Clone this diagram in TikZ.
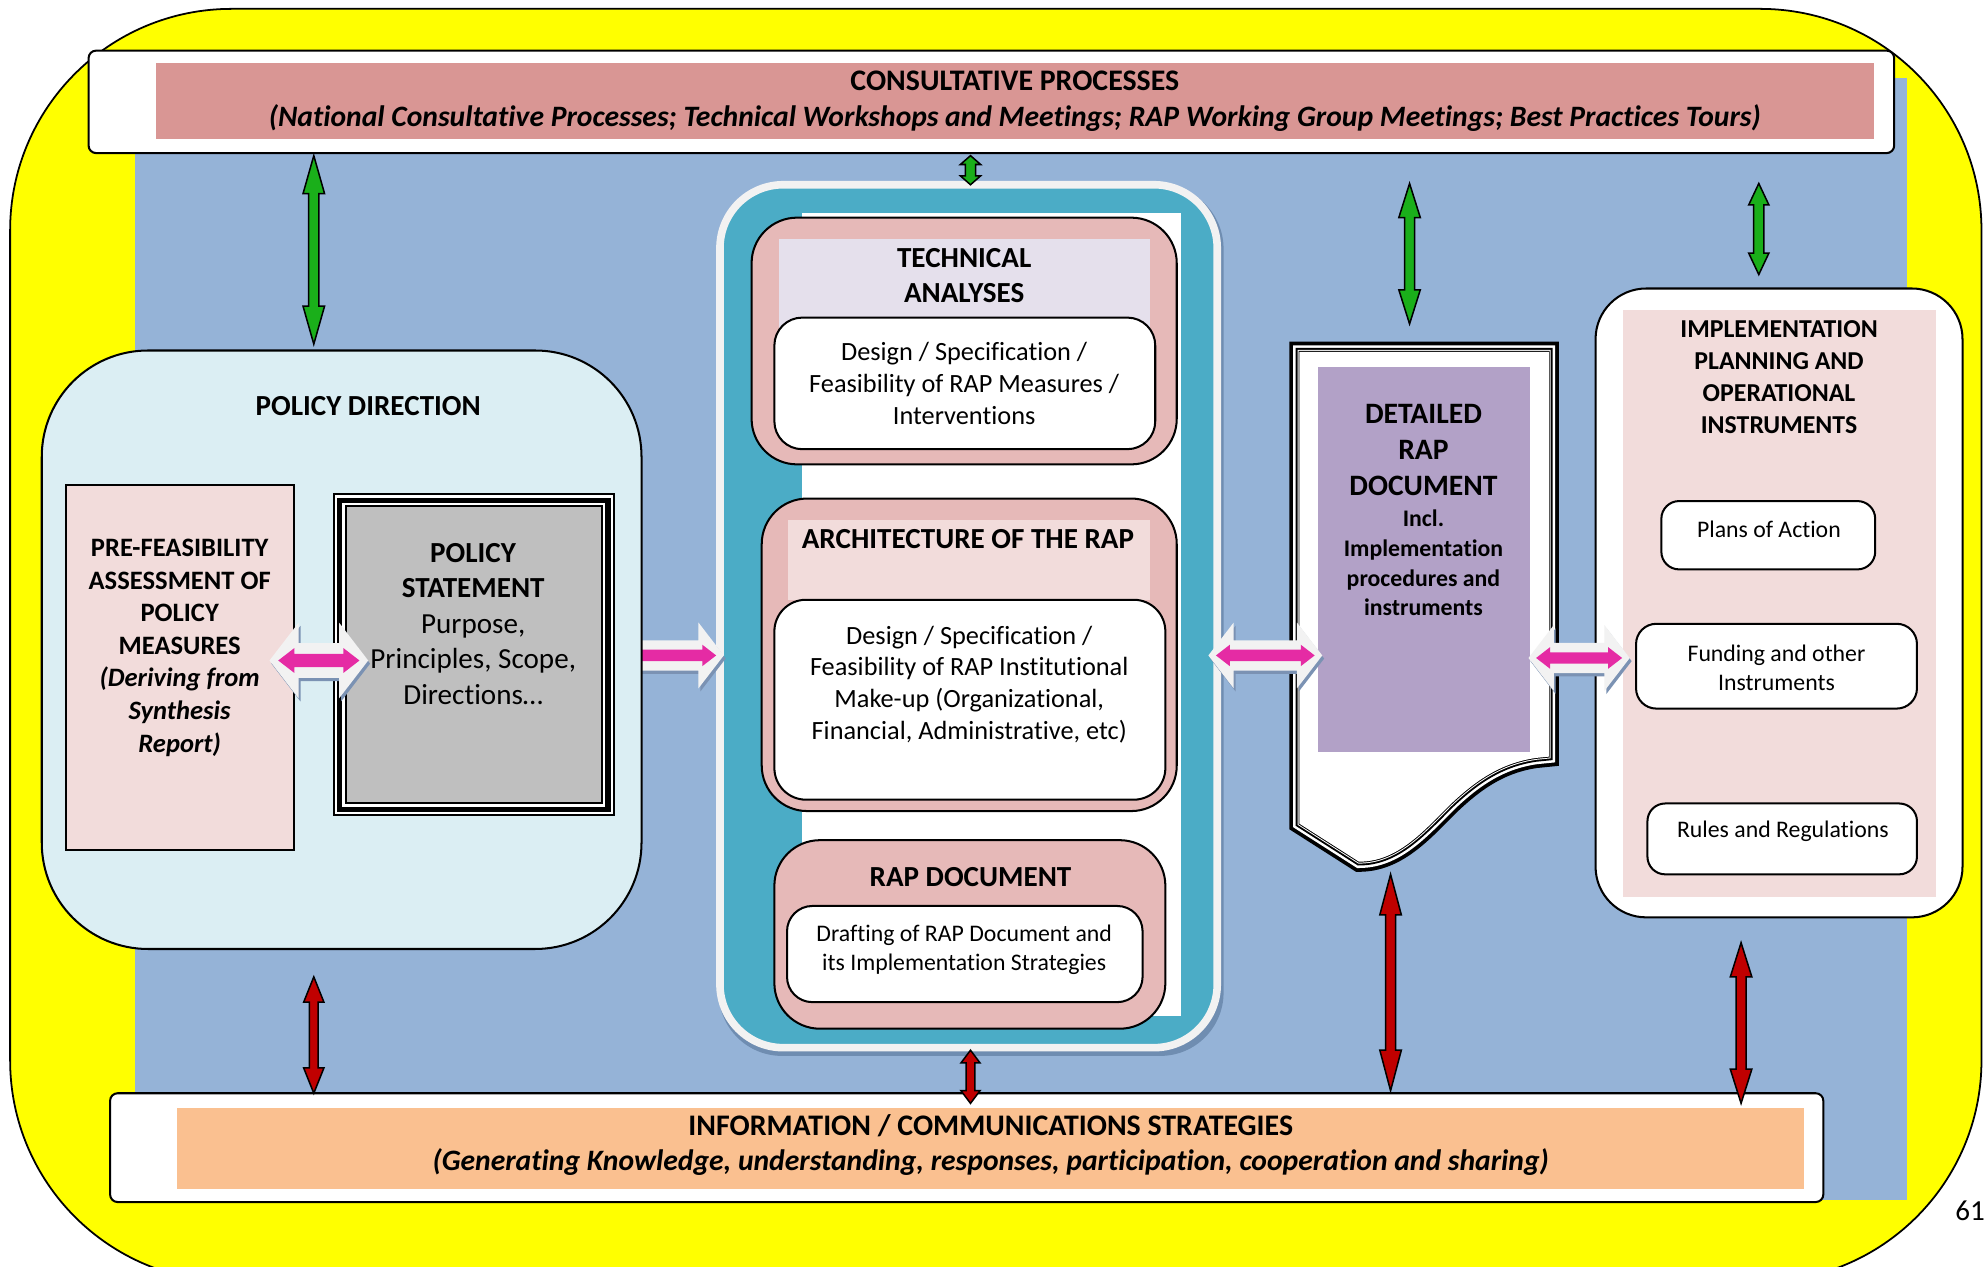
\documentclass[tikz,border=0pt]{standalone}
\usepackage{fontspec}
\setmainfont{Carlito}[Ligatures=NoCommon]
\usetikzlibrary{calc}

\definecolor{frameyellow}{HTML}{FFFF00}
\definecolor{bgblue}{HTML}{95B3D7}
\definecolor{consultpink}{HTML}{D99694}
\definecolor{infopeach}{HTML}{FAC090}
\definecolor{pdblue}{HTML}{DBEEF3}
\definecolor{palepink}{HTML}{F2DCDB}
\definecolor{stmtgray}{HTML}{BFBFBF}
\definecolor{panelteal}{HTML}{4BACC6}
\definecolor{panelrim}{HTML}{F2F2F2}
\definecolor{panelshade}{HTML}{6F8DB1}
\definecolor{boxpink}{HTML}{E6B9B8}
\definecolor{headlav}{HTML}{E5E0EC}
\definecolor{docpurple}{HTML}{B2A1C7}
\definecolor{agreen}{HTML}{1AAF1A}
\definecolor{ared}{HTML}{C00000}
\definecolor{amagenta}{HTML}{E52BA4}
\definecolor{arrowwhite}{HTML}{F2F2F2}
\definecolor{arrowshade}{HTML}{7B92B3}

\tikzset{
  plain/.style={rectangle, inner sep=0pt, outer sep=0pt},
  edged/.style={plain, draw=black, line width=0.8pt},
  txttitle/.style={inner sep=0pt, align=center, font=\bfseries\fontsize{11.5}{14}\selectfont},
  txtband/.style={inner sep=0pt, align=center, font=\bfseries\fontsize{11.8}{14}\selectfont},
  txtsub/.style={inner sep=0pt, align=center, font=\bfseries\itshape\fontsize{11.7}{14}\selectfont},
  txtbody/.style={inner sep=0pt, align=center, font=\fontsize{10.4}{12.6}\selectfont},
  txtsmall/.style={inner sep=0pt, align=center, font=\fontsize{9.4}{11.5}\selectfont},
  greenarrow/.style={fill=agreen, draw=black, line width=0.6pt},
  redarrow/.style={fill=ared, draw=black, line width=0.6pt},
}

% vertical block arrow with two heads: style, top tip, bottom tip, head length, head half width, shaft half width
\newcommand\vbiarrow[6]{%
  \path[#1] (#2) -- ($(#2)+({#5},{#4})$) -- ($(#2)+({#6},{#4})$) -- ($(#3)+({#6},{-#4})$)
    -- ($(#3)+({#5},{-#4})$) -- (#3) -- ($(#3)+({-#5},{-#4})$) -- ($(#3)+({-#6},{-#4})$)
    -- ($(#2)+({-#6},{#4})$) -- ($(#2)+({-#5},{#4})$) -- cycle;}

% horizontal block arrow with two heads: style, left tip, right tip, head length, head half height, shaft half height
\newcommand\hbiarrow[6]{%
  \path[#1] (#2) -- ($(#2)+({#4},{-#5})$) -- ($(#2)+({#4},{-#6})$) -- ($(#3)+({-#4},{-#6})$)
    -- ($(#3)+({-#4},{-#5})$) -- (#3) -- ($(#3)+({-#4},{#5})$) -- ($(#3)+({-#4},{#6})$)
    -- ($(#2)+({#4},{#6})$) -- ($(#2)+({#4},{#5})$) -- cycle;}

% white linking arrow with a soft shadow and a magenta core: left tip, right tip, scale
\newcommand\linkarrow[3]{%
  \coordinate (la-sl) at ($(#1)+(1.5,2.5)$);
  \coordinate (la-sr) at ($(#2)+(1.5,2.5)$);
  \coordinate (la-ml) at ($(#1)+({6*#3},0)$);
  \coordinate (la-mr) at ($(#2)+({-6*#3},0)$);
  \hbiarrow{fill=arrowshade}{la-sl}{la-sr}{20*#3}{26*#3}{12*#3}
  \hbiarrow{fill=arrowwhite}{#1}{#2}{20*#3}{26*#3}{12*#3}
  \hbiarrow{fill=amagenta}{la-ml}{la-mr}{11*#3}{8.5*#3}{4.5*#3}}

\begin{document}
\begin{tikzpicture}[x=0.5pt, y=-0.5pt]
\useasboundingbox (0,0) rectangle (1568,1001);

% outer yellow frame and blue field
\draw[fill=frameyellow, line width=0.7pt, rounded corners=87.5pt] (8,7) rectangle (1566,1013);
\fill[bgblue] (107,62) rectangle (1507,948);

% consultative processes band
\node[edged, fill=white, rounded corners=3pt, minimum width=713.5pt, minimum height=40.5pt] (consult) at (783.5,80.5) {};
\node[plain, fill=consultpink, minimum width=679pt, minimum height=30pt] (consultIn) at (802,80) {};
\node[txtband] (consultTitle) at (802,64) {CONSULTATIVE PROCESSES};
\node[txtsub] (consultSub) at (802,93) {(National Consultative Processes; Technical Workshops and Meetings; RAP Working Group Meetings; Best Practices Tours)};

% information / communications band
\node[edged, fill=white, rounded corners=3pt, minimum width=677pt, minimum height=43pt] (info) at (764,907) {};
\node[plain, fill=infopeach, minimum width=643pt, minimum height=32pt] (infoIn) at (783,908) {};
\node[txtband] (infoTitle) at (783,890) {INFORMATION / COMMUNICATIONS STRATEGIES};
\node[txtsub] (infoSub) at (783,918) {(Generating Knowledge, understanding, responses, participation, cooperation and sharing)};

% central panel
\node[plain, fill=panelshade, rounded corners=25pt, minimum width=199.5pt, minimum height=344pt] (panelShadow) at (767.5,490.5) {};
\node[plain, fill=panelteal, draw=panelrim, line width=3pt, rounded corners=25pt, minimum width=196.5pt, minimum height=341pt] (panel) at (765.5,487) {};
\node[plain, fill=white, minimum width=149.5pt, minimum height=317.5pt] (panelWhite) at (783.5,485.5) {};

\node[edged, fill=boxpink, rounded corners=18pt, minimum width=168pt, minimum height=97.5pt] (tech) at (762,269.5) {};
\node[plain, fill=headlav, minimum width=146.5pt, minimum height=35.5pt] (techHead) at (762.5,224.5) {};
\node[edged, fill=white, rounded corners=11pt, minimum width=150.5pt, minimum height=52pt] (techBody) at (762.5,303) {};
\node[txttitle] (techTitle) at (762,218) {TECHNICAL\\ANALYSES};
\node[txtbody] (techText) at (762,303) {Design / Specification /\\Feasibility of RAP Measures /\\Interventions};

\node[edged, fill=boxpink, rounded corners=18pt, minimum width=164pt, minimum height=123.5pt] (arch) at (766,517.5) {};
\node[plain, fill=palepink, minimum width=143pt, minimum height=31.5pt] (archHead) at (766,442.5) {};
\node[edged, fill=white, rounded corners=12.5pt, minimum width=154.5pt, minimum height=79pt] (archBody) at (766.5,553) {};
\node[txttitle] (archTitle) at (765,426) {ARCHITECTURE OF THE RAP};
\node[txtbody] (archText) at (766,541) {Design / Specification /\\Feasibility of RAP Institutional\\Make-up (Organizational,\\Financial, Administrative, etc)};

\node[edged, fill=boxpink, rounded corners=18pt, minimum width=154.5pt, minimum height=74.5pt] (rapdoc) at (766.5,738.5) {};
\node[edged, fill=white, rounded corners=10pt, minimum width=140.5pt, minimum height=38pt] (rapBody) at (762.5,754) {};
\node[txttitle] (rapTitle) at (767,693) {RAP DOCUMENT};
\node[txtsmall] (rapText) at (762,750.5) {Drafting of RAP Document and\\its Implementation Strategies};

% link from policy direction into the central panel
\coordinate (h2L) at (470,518);
\coordinate (h2R) at (572,518);
\linkarrow{h2L}{h2R}{1}

% policy direction
\node[edged, fill=pdblue, rounded corners=42pt, minimum width=237pt, minimum height=236.5pt] (poldir) at (270,513.5) {};
\node[txttitle] (pdTitle) at (291,321) {POLICY DIRECTION};
\node[edged, fill=palepink, minimum width=90pt, minimum height=144.5pt] (prefeas) at (142,527.5) {};
\node[txttitle, font=\bfseries\fontsize{10.5}{12.85}\selectfont] (pfText) at (142,512)
  {PRE-FEASIBILITY\\ASSESSMENT OF\\POLICY\\MEASURES\\\textit{(Deriving from}\\\textit{Synthesis}\\\textit{Report)}};
\foreach \w/\c in {11pt/black, 9.5pt/white, 7.5pt/black, 3.5pt/white, 1.5pt/black}
  \draw[line width=\w, draw=\c] (274,401) rectangle (475,634);
\node[plain, fill=stmtgray, minimum width=100.5pt, minimum height=116.5pt] (stmt) at (374.5,517.5) {};
\node[inner sep=0pt, align=center, font=\fontsize{11.5}{14}\selectfont] (stmtText) at (374,493)
  {\textbf{POLICY}\\\textbf{STATEMENT}\\Purpose,\\Principles, Scope,\\Directions…};
\coordinate (h1L) at (213,522);
\coordinate (h1R) at (291,522);
\linkarrow{h1L}{h1R}{1.15}

% detailed RAP document sheet
\foreach \w/\c in {8pt/black, 5pt/white, 3pt/black, 1.5pt/white, 0.75pt/black}
  \draw[line width=\w, draw=\c] (1027,278) -- (1224,278) -- (1224,598) -- (1214,599)
    .. controls (1186,603) and (1166,617) .. (1146,636)
    .. controls (1124,658) and (1104,681) .. (1074,681) -- (1027,651) -- cycle;
\fill[white] (1027,278) -- (1224,278) -- (1224,598) -- (1214,599)
    .. controls (1186,603) and (1166,617) .. (1146,636)
    .. controls (1124,658) and (1104,681) .. (1074,681) -- (1027,651) -- cycle;
\node[plain, fill=docpurple, minimum width=83.5pt, minimum height=152pt] (purple) at (1125.5,442) {};
\node[txttitle, font=\bfseries\fontsize{11.7}{14.2}\selectfont] (docTitle) at (1125,355.5) {DETAILED\\RAP\\DOCUMENT};
\node[txttitle, font=\bfseries\fontsize{9.4}{11.7}\selectfont] (docText) at (1125,445) {Incl.\\Implementation\\procedures and\\instruments};

% implementation planning and operational instruments
\node[edged, fill=white, rounded corners=20pt, minimum width=145pt, minimum height=248.5pt] (impl) at (1406,476.5) {};
\node[plain, fill=palepink, minimum width=123.5pt, minimum height=232pt] (implIn) at (1406.5,477) {};
\node[txttitle, font=\bfseries\fontsize{10.2}{12.7}\selectfont] (implTitle) at (1406,298) {IMPLEMENTATION\\PLANNING AND\\OPERATIONAL\\INSTRUMENTS};
\node[edged, fill=white, rounded corners=7pt, minimum width=84.5pt, minimum height=27pt] (plans) at (1397.5,423) {};
\node[txtsmall] (plansText) at (1398,418) {Plans of Action};
\node[edged, fill=white, rounded corners=8pt, minimum width=111pt, minimum height=33.5pt] (funding) at (1404,526.5) {};
\node[txtsmall] (fundingText) at (1404,527.5) {Funding and other\\Instruments};
\node[edged, fill=white, rounded corners=7pt, minimum width=106.5pt, minimum height=28pt] (rules) at (1408.5,663) {};
\node[txtsmall] (rulesText) at (1409,657) {Rules and Regulations};

% links either side of the detailed document
\coordinate (h3L) at (955,518);
\coordinate (h3R) at (1045,518);
\linkarrow{h3L}{h3R}{1}
\coordinate (h4L) at (1208,520);
\coordinate (h4R) at (1288,520);
\linkarrow{h4L}{h4R}{1}

% consultation links (green)
\coordinate (g1t) at (248,123);  \coordinate (g1b) at (248,272);
\coordinate (g2t) at (767,123);  \coordinate (g2b) at (767,146);
\coordinate (g3t) at (1114,145); \coordinate (g3b) at (1114,256);
\coordinate (g4t) at (1390,145); \coordinate (g4b) at (1390,217);
\vbiarrow{greenarrow}{g1t}{g1b}{30}{8.5}{4}
\vbiarrow{greenarrow}{g2t}{g2b}{7}{8}{4}
\vbiarrow{greenarrow}{g3t}{g3b}{27}{8.5}{4}
\vbiarrow{greenarrow}{g4t}{g4b}{17}{8}{4}

% communication links (red)
\coordinate (r1t) at (248,772);  \coordinate (r1b) at (248,864);
\coordinate (r2t) at (767,830);  \coordinate (r2b) at (767,872);
\coordinate (r3t) at (1099,691); \coordinate (r3b) at (1099,862);
\coordinate (r4t) at (1376,745); \coordinate (r4b) at (1376,872);
\vbiarrow{redarrow}{r1t}{r1b}{20}{8}{3.5}
\vbiarrow{redarrow}{r2t}{r2b}{10}{7.5}{3.5}
\vbiarrow{redarrow}{r3t}{r3b}{32}{8.5}{4}
\vbiarrow{redarrow}{r4t}{r4b}{27}{8.5}{4}

% page number
\node[inner sep=0pt, font=\fontsize{11.5}{14}\selectfont] (pageNo) at (1557,957) {61};
\end{tikzpicture}
\end{document}
